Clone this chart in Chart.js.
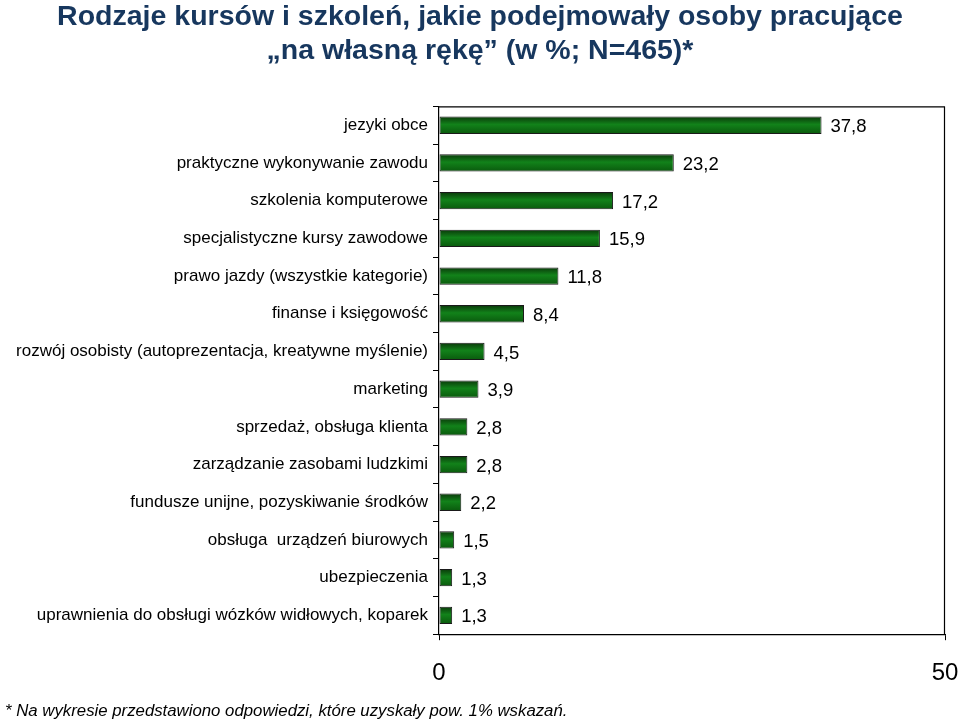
<!DOCTYPE html>
<html><head><meta charset="utf-8">
<script src="https://cdn.jsdelivr.net/npm/chart.js@4"></script>
<style>html,body{margin:0;padding:0;background:#fff;}#wrap{width:960px;height:722px;position:relative;}</style>
</head><body><div id="wrap"><canvas id="c" width="960" height="722"></canvas></div>
<script>
const categories = [
  "jezyki obce",
  "praktyczne wykonywanie zawodu",
  "szkolenia komputerowe",
  "specjalistyczne kursy zawodowe",
  "prawo jazdy (wszystkie kategorie)",
  "finanse i księgowość",
  "rozwój osobisty (autoprezentacja, kreatywne myślenie)",
  "marketing",
  "sprzedaż, obsługa klienta",
  "zarządzanie zasobami ludzkimi",
  "fundusze unijne, pozyskiwanie środków",
  "obsługa  urządzeń biurowych",
  "ubezpieczenia",
  "uprawnienia do obsługi wózków widłowych, koparek"
];
const values = [37.8, 23.2, 17.2, 15.9, 11.8, 8.4, 4.5, 3.9, 2.8, 2.8, 2.2, 1.5, 1.3, 1.3];
const xTicks = [0, 50];
const titleLines = ["Rodzaje kursów i szkoleń, jakie podejmowały osoby pracujące", "„na własną rękę” (w %; N=465)*"];
const footnote = "* Na wykresie przedstawiono odpowiedzi, które uzyskały pow. 1% wskazań.";

const FONT = "'Liberation Sans', Arial, sans-serif";

const frame = {
  id: 'frame',
  afterDatasetsDraw(chart) {
    const {ctx, chartArea: a} = chart;
    ctx.save();
    ctx.strokeStyle = '#000'; ctx.lineWidth = 1.2;
    ctx.beginPath();
    ctx.moveTo(a.left, a.top + 0.5); ctx.lineTo(a.right, a.top + 0.5);
    ctx.moveTo(a.right - 0.5, a.top); ctx.lineTo(a.right - 0.5, a.bottom);
    ctx.stroke();
    const meta = chart.getDatasetMeta(0);
    ctx.fillStyle = '#000';
    ctx.font = '18.5px ' + FONT;
    ctx.textBaseline = 'middle';
    ctx.textAlign = 'left';
    meta.data.forEach((bar, i) => {
      ctx.fillText(values[i].toFixed(1).replace('.', ','), bar.x + 9, bar.y + 2);
    });
    ctx.font = 'italic 16.8px ' + FONT;
    ctx.textBaseline = 'alphabetic';
    ctx.fillText(footnote, 5, 716);
    ctx.restore();
  }
};

function barFill(context) {
  const chart = context.chart;
  const ys = chart.scales && chart.scales.y;
  if (!ys || context.dataIndex === undefined) return '#0b6b0b';
  const cy = ys.getPixelForValue(context.dataIndex);
  if (!isFinite(cy)) return '#0b6b0b';
  const h = 17;
  const g = chart.ctx.createLinearGradient(0, cy - h / 2, 0, cy + h / 2);
  g.addColorStop(0, '#0a3a0a');
  g.addColorStop(0.45, '#12821a');
  g.addColorStop(1, '#0a5a0d');
  return g;
}

new Chart(document.getElementById('c'), {
  type: 'bar',
  data: {
    labels: categories,
    datasets: [{
      data: values,
      backgroundColor: barFill,
      borderColor: '#1a1a1a',
      borderWidth: 1,
      borderSkipped: false,
      categoryPercentage: 1,
      barPercentage: 0.46
    }]
  },
  options: {
    indexAxis: 'y',
    responsive: false,
    animation: false,
    devicePixelRatio: 1,
    layout: { padding: { top: 0, left: 15, right: 15, bottom: 15 } },
    plugins: {
      legend: { display: false },
      tooltip: { enabled: false },
      title: {
        display: true,
        text: titleLines,
        color: '#17375E',
        font: { family: FONT, size: 28.5, weight: 'bold', lineHeight: 1.2 },
        padding: { top: 0, bottom: 38 }
      }
    },
    scales: {
      x: {
        min: 0, max: 50,
        afterBuildTicks(scale) { scale.ticks = xTicks.map(v => ({ value: v })); },
        afterFit(scale) { scale.paddingRight = 0; scale.paddingLeft = 0; },
        ticks: { color: '#000', font: { family: FONT, size: 24 }, padding: 19, maxRotation: 0 },
        grid: { drawOnChartArea: false, tickLength: 6, color: '#000' },
        border: { color: '#000', width: 1.2 }
      },
      y: {
        afterFit(scale) { scale.width = 424; },
        ticks: { color: '#000', font: { family: FONT, size: 17 }, padding: 5, autoSkip: false },
        grid: { drawOnChartArea: false, tickLength: 6, color: '#000', offset: true },
        border: { color: '#000', width: 1.2 }
      }
    }
  },
  plugins: [frame]
});
</script></body></html>
